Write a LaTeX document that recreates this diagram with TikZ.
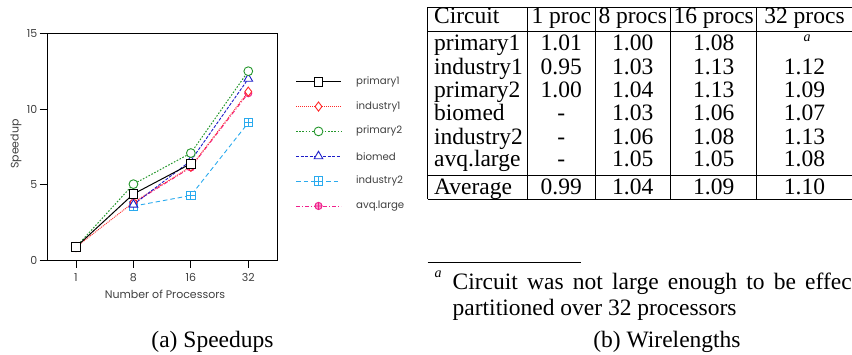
\documentclass[tikz,border=0pt]{standalone}
\usepackage{fontspec}
\setmainfont{Liberation Serif}
\newfontfamily\plotfont{Poppins}
\usetikzlibrary{plotmarks}

\definecolor{plotgray}{HTML}{404040}
\definecolor{cRed}{HTML}{FF2A2A}
\definecolor{cGreen}{HTML}{23962B}
\definecolor{cBlue}{HTML}{1C1CC8}
\definecolor{cCyan}{HTML}{2AAAEE}
\definecolor{cMag}{HTML}{F0208C}

% open square with a cross inside
\pgfdeclareplotmark{boxplus}{%
  \pgfpathrectangle{\pgfpoint{-\pgfplotmarksize}{-\pgfplotmarksize}}%
    {\pgfpoint{2\pgfplotmarksize}{2\pgfplotmarksize}}%
  \pgfusepathqfillstroke
  \pgfpathmoveto{\pgfpoint{-\pgfplotmarksize}{0pt}}%
  \pgfpathlineto{\pgfpoint{\pgfplotmarksize}{0pt}}%
  \pgfpathmoveto{\pgfpoint{0pt}{-\pgfplotmarksize}}%
  \pgfpathlineto{\pgfpoint{0pt}{\pgfplotmarksize}}%
  \pgfusepathqstroke}

\tikzset{
  plottext/.style={font=\plotfont\fontsize{11}{13}\selectfont, text=plotgray, inner sep=0pt},
  legtext/.style={font=\plotfont\fontsize{10.2}{12}\selectfont, text=plotgray, inner sep=0pt},
  serif/.style={font=\fontsize{23.5}{26}\selectfont, inner sep=0pt},
  small serif/.style={font=\fontsize{14}{16}\selectfont\itshape, inner sep=0pt},
  axisline/.style={line width=0.9pt, draw=black},
  tabline/.style={line width=0.9pt},
  sPrimA/.style={draw=black, line width=1pt,
    mark=square*, mark size=4.3pt, mark options={solid, fill=white, draw=black, line width=0.9pt}},
  sIndA/.style={draw=cRed, line width=0.9pt, dash pattern=on 1pt off 1pt,
    mark=diamond*, mark size=4.6pt, mark options={solid, fill=white, draw=cRed, line width=0.9pt}},
  sPrimB/.style={draw=cGreen, line width=1pt, dash pattern=on 1.6pt off 1.6pt,
    mark=*, mark size=4.4pt, mark options={solid, fill=white, draw=cGreen, line width=0.9pt}},
  sBio/.style={draw=cBlue, line width=0.9pt, dash pattern=on 3pt off 1.5pt,
    mark=triangle*, mark size=5pt, mark options={solid, fill=white, draw=cBlue, line width=0.9pt}},
  sIndB/.style={draw=cCyan, line width=0.9pt, dash pattern=on 4.5pt off 3pt,
    mark=boxplus, mark size=4.2pt, mark options={solid, fill=white, draw=cCyan, line width=0.9pt}},
  sAvq/.style={draw=cMag, line width=0.9pt, dash pattern=on 4pt off 2pt on 1pt off 2pt,
    mark=oplus*, mark size=3.6pt, mark options={solid, fill=cMag!45, draw=cMag, line width=0.9pt}},
}

\begin{document}
\begin{tikzpicture}[x=1pt, y=-1pt]
\useasboundingbox (0,0) rectangle (852,354);
\clip (0,0) rectangle (852,354);

% ---------------- speedup chart ----------------
\draw[axisline] (47.7,33.3) rectangle (277.7,260.7);
\foreach \v in {0,5,10,15} {
  \pgfmathsetmacro{\yy}{260.7-15.16*\v}
  \draw[axisline] (39.5,\yy) -- (47.7,\yy);
  \node[plottext, anchor=east] (ytick\v) at (37.5,\yy) {\v};
}
\foreach \i/\lab in {0/1,1/8,2/16,3/32} {
  \pgfmathsetmacro{\xx}{76+57.43*\i}
  \draw[axisline] (\xx,260.7) -- (\xx,268);
  \node[plottext] (xtick\i) at (\xx,277.5) {\lab};
}
\node[plottext, rotate=90] (ylabel) at (16,144) {Speedup};
\node[plottext] (xlabel) at (165,294.5) {Number of Processors};

\begin{scope}[shift={(76pt,-260.7pt)}, x=57.43pt, y=15.16pt]
  \draw[sIndB] plot coordinates {(1,3.6) (2,4.3) (3,9.1)};
  \draw[sAvq]  plot coordinates {(1,3.8) (2,6.15) (3,11.05)};
  \draw[sIndA] plot coordinates {(0,0.9) (1,3.85) (2,6.2) (3,11.15)};
  \draw[sBio]  plot coordinates {(1,3.7) (2,6.6) (3,12.0)};
  \draw[sPrimB] plot coordinates {(0,0.9) (1,5.05) (2,7.1) (3,12.5)};
  \draw[sPrimA] plot coordinates {(0,0.9) (1,4.4) (2,6.4)};
\end{scope}

% legend
\foreach \st/\lab [count=\k from 0] in {sPrimA/primary1, sIndA/industry1, sPrimB/primary2,
                                        sBio/biomed, sIndB/industry2, sAvq/avq.large} {
  \pgfmathsetmacro{\ly}{81.7+24.85*\k}
  \draw[\st, mark=none] (296,\ly) -- (341,\ly);
  \draw[\st] plot coordinates {(318.5,\ly)};
  \node[legtext, anchor=west] (leg\k) at (356,\ly) {\lab};
}

% ---------------- wirelength table ----------------
\draw[tabline] (427.5,7.3) -- (860,7.3);
\draw[tabline] (427.5,31.7) -- (860,31.7);
\draw[tabline] (427.5,175.7) -- (860,175.7);
\draw[tabline] (427.5,199) -- (860,199);
\foreach \cx in {427.5,527.7,595,670.7,756.7}
  \draw[tabline] (\cx,7.3) -- (\cx,199);

\node[serif, anchor=base west] (h0) at (434,23.3) {Circuit};
\node[serif, anchor=base] (h1) at (561.3,23.3) {1 proc};
\node[serif, anchor=base] (h2) at (632.8,23.3) {8 procs};
\node[serif, anchor=base] (h3) at (713.7,23.3) {16 procs};
\node[serif, anchor=base] (h4) at (804.5,23.3) {32 procs};

\foreach \name/\a/\b/\c/\d/\yb [count=\r] in {
    primary1/1.01/1.00/1.08//50.9,
    industry1/0.95/1.03/1.13/1.12/74.3,
    primary2/1.00/1.04/1.13/1.09/97.6,
    biomed/-/1.03/1.06/1.07/120.9,
    industry2/-/1.06/1.08/1.13/144.3,
    avq.large/-/1.05/1.05/1.08/166.9,
    Average/0.99/1.04/1.09/1.10/194.3} {
  \node[serif, anchor=base west] (r\r c0) at (434,\yb) {\name};
  \node[serif, anchor=base] (r\r c1) at (561.3,\yb) {\a};
  \node[serif, anchor=base] (r\r c2) at (632.8,\yb) {\b};
  \node[serif, anchor=base] (r\r c3) at (713.7,\yb) {\c};
  \node[serif, anchor=base] (r\r c4) at (804.5,\yb) {\d};
}
\node[small serif, anchor=base] (fnmark) at (807,41.5) {a};

% footnote
\draw[line width=0.7pt] (427.5,262) -- (581,262);
\node[small serif, anchor=base] (fnmarkb) at (438,277.5) {a};
\node[serif, anchor=base west] (fnA) at (452.5,289.5)
  {\makebox[399pt][s]{Circuit was not large enough to be effec}};
\node[serif, anchor=base west] (fnB) at (452.5,315) {partitioned over 32 processors};

% sub-captions
\node[serif, anchor=base] (capA) at (212.5,347) {(a) Speedups};
\node[serif, anchor=base] (capB) at (667,347) {(b) Wirelengths};
\end{tikzpicture}
\end{document}
